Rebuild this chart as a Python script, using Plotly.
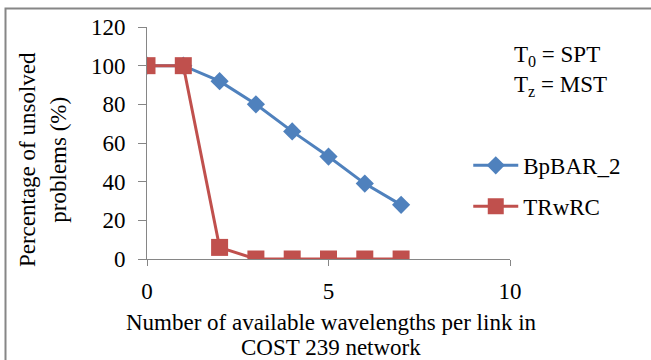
import plotly.graph_objects as go

x_vals = [0, 1, 2, 3, 4, 5, 6, 7]
bpbar2 = [100, 100, 92, 80, 66, 53, 39, 28]
trwrc = [100, 100, 6, 0, 0, 0, 0, 0]
x_ticks = [0, 5, 10]
y_ticks = [0, 20, 40, 60, 80, 100, 120]

FONT = "'Liberation Serif', 'Times New Roman', serif"
FS = 23
BLUE = "#4F81BD"
RED = "#C0504D"
AXIS = "#868686"

fig = go.Figure()
fig.add_trace(go.Scatter(
    x=x_vals, y=bpbar2, name="BpBAR_2", mode="lines+markers",
    line=dict(color=BLUE, width=3),
    marker=dict(symbol="diamond", size=14, color=BLUE),
    legendgroup="a",
))
fig.add_trace(go.Scatter(
    x=x_vals, y=trwrc, name="TRwRC", mode="lines+markers",
    line=dict(color=RED, width=3),
    marker=dict(symbol="square", size=17, color=RED),
    legendgroup="b",
))

def ann(text, x, y, angle=0, xanchor="center", yanchor="middle"):
    return dict(text=text, xref="paper", yref="paper", x=x, y=y,
                xanchor=xanchor, yanchor=yanchor, showarrow=False,
                textangle=angle, font=dict(family=FONT, size=FS, color="black"))

fig.update_layout(
    width=651, height=360, autosize=False,
    margin=dict(l=147, r=141, t=27, b=101),
    paper_bgcolor="white", plot_bgcolor="white",
    font=dict(family=FONT, size=FS, color="black"),
    showlegend=True,
    legend=dict(x=0.885, y=0.315, xanchor="left", yanchor="middle",
                font=dict(family=FONT, size=FS), tracegroupgap=8,
                itemwidth=45, bgcolor="rgba(0,0,0,0)"),
    xaxis=dict(range=[0, 10], tickvals=x_ticks, showgrid=False, zeroline=False,
               showline=True, linecolor=AXIS, linewidth=1,
               ticks="outside", ticklen=6, tickcolor=AXIS, ticklabelstandoff=5,
               tickfont=dict(family=FONT, size=FS)),
    yaxis=dict(range=[0, 120], tickvals=y_ticks, showgrid=False, zeroline=False,
               showline=True, linecolor=AXIS, linewidth=1,
               ticks="outside", ticklen=8, tickcolor=AXIS, ticklabelstandoff=8,
               tickfont=dict(family=FONT, size=FS)),
    shapes=[dict(type="rect", xref="paper", yref="paper",
                 x0=-0.3898, x1=1.5, y0=-1.0, y1=1.0797,
                 line=dict(color=AXIS, width=2), fillcolor="rgba(0,0,0,0)",
                 layer="below")],
    annotations=[
        dict(text="T<sub>0</sub> = SPT<br>T<sub>z</sub> = MST",
             xref="paper", yref="paper", x=1.005, y=0.945,
             xanchor="left", yanchor="top", align="left", showarrow=False,
             font=dict(family=FONT, size=FS)),
        ann("Number of available wavelengths per link in", 0.507, -0.272),
        ann("COST 239 network", 0.507, -0.38),
        ann("Percentage of unsolved", -0.331, 0.43, angle=-90),
        ann("problems (%)", -0.244, 0.43, angle=-90),
    ],
)

fig.write_html("out.html")
